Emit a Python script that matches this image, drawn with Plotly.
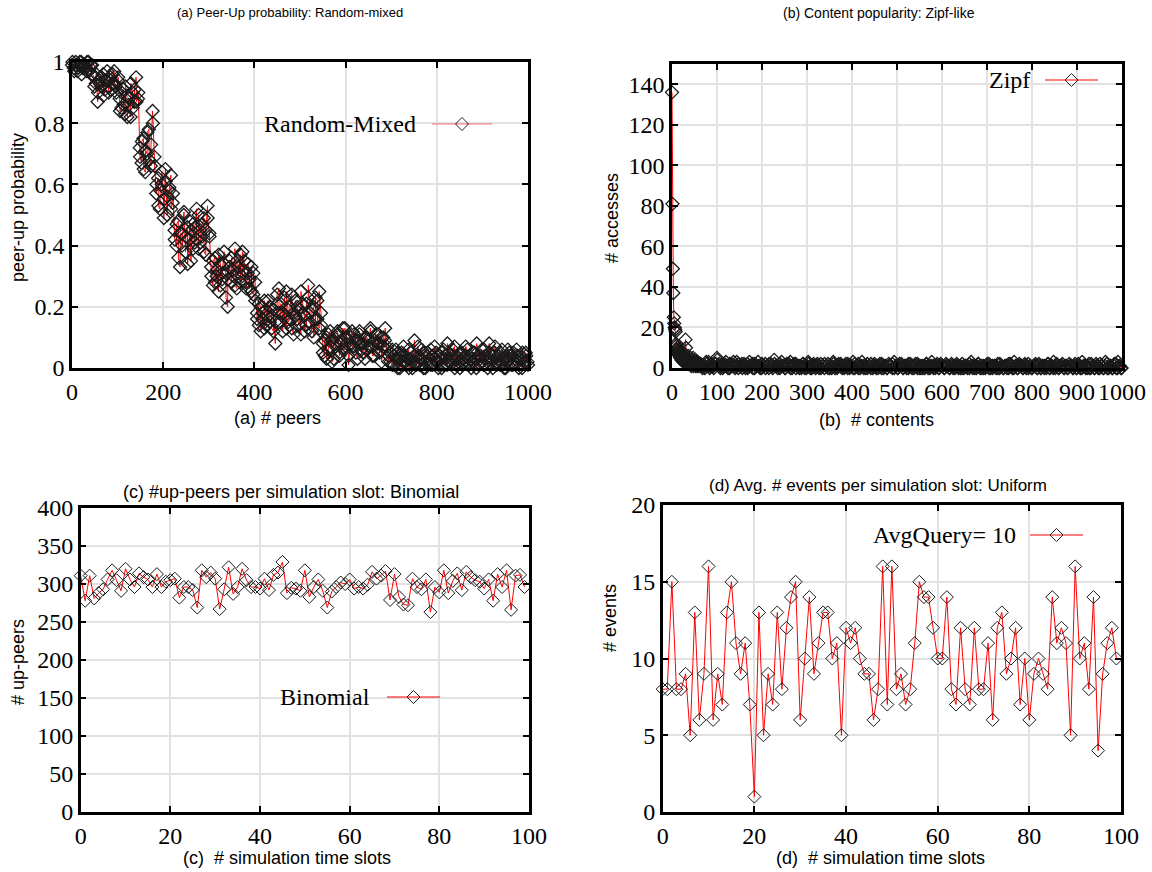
import plotly.graph_objects as go

# === data ===
# (a) peer-up probability per peer, two interleaved samples (even / odd positions)
peer_up_a = [
    0.99, 0.98, 1.0, 0.97, 0.99, 1.0, 0.98, 0.99, 0.97, 1.0, 0.98, 0.99,
    0.95, 0.93, 0.87, 0.94, 0.92, 0.96, 0.91, 0.94, 0.90, 0.95, 0.93, 0.97, 0.92, 0.94,
    0.88, 0.85, 0.91, 0.83, 0.89, 0.86, 0.82, 0.90, 0.87, 0.95, 0.88,
    0.72, 0.67, 0.75, 0.64, 0.70, 0.78, 0.66, 0.84, 0.69,
    0.57, 0.62, 0.52, 0.60, 0.55, 0.65, 0.50, 0.58, 0.63, 0.54,
    0.45, 0.40, 0.48, 0.33, 0.44, 0.50, 0.38, 0.46, 0.42, 0.35,
    0.47, 0.41, 0.52, 0.39, 0.45, 0.43, 0.49, 0.37, 0.53, 0.44,
    0.33, 0.27, 0.36, 0.30, 0.25, 0.34, 0.29, 0.38, 0.31, 0.20, 0.35, 0.28, 0.32,
    0.39, 0.26, 0.33, 0.37, 0.30, 0.35, 0.28, 0.31, 0.26, 0.33, 0.24, 0.28,
    0.18, 0.14, 0.20, 0.16, 0.13, 0.19, 0.22, 0.15, 0.17, 0.12, 0.08, 0.21,
    0.26, 0.15, 0.18, 0.23, 0.13, 0.19, 0.16, 0.24, 0.11, 0.17, 0.20, 0.14,
    0.25, 0.18, 0.12, 0.21, 0.27, 0.15, 0.19, 0.10, 0.23, 0.16, 0.25, 0.14,
    0.05, 0.09, 0.03, 0.11, 0.07, 0.02, 0.10, 0.08, 0.12, 0.04, 0.09, 0.06,
    0.13, 0.08, 0.01, 0.10, 0.07, 0.11, 0.05, 0.09, 0.12, 0.06, 0.08, 0.03,
    0.10, 0.07, 0.12, 0.04, 0.09, 0.06, 0.11, 0.08, 0.02, 0.10, 0.13, 0.07,
    0.04, 0.02, 0.06, 0.01, 0.03, 0.05, 0.0, 0.04, 0.07, 0.02,
    0.03, 0.0, 0.05, 0.02, 0.09, 0.01, 0.04, 0.03, 0.06, 0.0,
    0.02, 0.05, 0.03, 0.01, 0.04, 0.07, 0.02, 0.0, 0.03, 0.05,
    0.01, 0.04, 0.08, 0.02, 0.03, 0.06, 0.0, 0.04, 0.02, 0.05,
    0.01, 0.03, 0.07, 0.02, 0.04, 0.0, 0.05, 0.03, 0.08, 0.01,
    0.04, 0.02, 0.06, 0.03, 0.0, 0.05, 0.02, 0.04, 0.07, 0.01,
    0.03, 0.05, 0.02, 0.0, 0.04, 0.06, 0.03, 0.01, 0.05, 0.02,
    0.04, 0.0, 0.03, 0.05, 0.02, 0.04, 0.01,
]
peer_up_b = [
    1.0, 0.97, 0.99, 0.98, 1.0, 0.96, 0.99, 0.98, 1.0, 0.97, 0.99, 0.96,
    0.92, 0.96, 0.90, 0.93, 0.95, 0.89, 0.94, 0.97, 0.92, 0.91, 0.96, 0.93, 0.90, 0.95,
    0.84, 0.90, 0.86, 0.92, 0.82, 0.88, 0.93, 0.85, 0.91, 0.87, 0.90,
    0.69, 0.74, 0.65, 0.71, 0.77, 0.68, 0.73, 0.80, 0.66,
    0.60, 0.53, 0.58, 0.64, 0.49, 0.61, 0.56, 0.59, 0.52, 0.57,
    0.42, 0.47, 0.36, 0.44, 0.40, 0.51, 0.43, 0.34, 0.48, 0.45,
    0.39, 0.46, 0.42, 0.50, 0.41, 0.47, 0.38, 0.45, 0.49, 0.43,
    0.30, 0.35, 0.28, 0.32, 0.37, 0.27, 0.31, 0.34, 0.23, 0.29, 0.33, 0.36, 0.30,
    0.27, 0.35, 0.31, 0.28, 0.38, 0.32, 0.26, 0.34, 0.29, 0.25, 0.31, 0.22,
    0.16, 0.21, 0.12, 0.18, 0.22, 0.14, 0.17, 0.20, 0.13, 0.19, 0.15, 0.24,
    0.18, 0.21, 0.12, 0.17, 0.25, 0.15, 0.20, 0.13, 0.18, 0.22, 0.16, 0.19,
    0.11, 0.21, 0.17, 0.14, 0.23, 0.18, 0.12, 0.20, 0.16, 0.22, 0.13, 0.18,
    0.08, 0.04, 0.10, 0.06, 0.12, 0.09, 0.03, 0.07, 0.11, 0.05, 0.08, 0.13,
    0.06, 0.10, 0.04, 0.08, 0.12, 0.07, 0.09, 0.03, 0.11, 0.08, 0.05, 0.10,
    0.06, 0.09, 0.13, 0.07, 0.04, 0.11, 0.08, 0.05, 0.10, 0.07, 0.09, 0.06,
    0.02, 0.05, 0.01, 0.04, 0.06, 0.0, 0.03, 0.05, 0.02, 0.04,
    0.01, 0.06, 0.03, 0.0, 0.04, 0.02, 0.07, 0.01, 0.03, 0.05,
    0.0, 0.04, 0.02, 0.06, 0.01, 0.03, 0.05, 0.02, 0.04, 0.0,
    0.06, 0.03, 0.01, 0.05, 0.02, 0.04, 0.07, 0.01, 0.03, 0.0,
    0.05, 0.02, 0.04, 0.06, 0.01, 0.03, 0.02, 0.05, 0.0, 0.04,
    0.03, 0.06, 0.01, 0.04, 0.02, 0.08, 0.03, 0.0, 0.05, 0.02,
    0.04, 0.01, 0.06, 0.03, 0.0, 0.02, 0.05, 0.04, 0.01, 0.03,
    0.06, 0.02, 0.04, 0.0, 0.03, 0.05, 0.02,
]

# (b) accesses per content: head (contents 0..59) and two interleaved tail samples
zipf_head = [
    136, 81, 49, 37, 25, 22, 20, 19, 18, 12,
    11, 9, 10, 8, 7, 9, 6, 8, 5, 7,
    6, 4, 5, 8, 6, 3, 5, 4, 6, 3,
    14, 10, 5, 2, 4, 3, 6, 2, 3, 4,
    2, 5, 3, 1, 4, 2, 3, 5, 1, 2,
    3, 2, 4, 1, 3, 2, 1, 3, 2, 2,
]
zipf_tail_a = [
    1, 2, 0, 1, 3, 1, 0, 2, 1, 2, 5, 1, 0, 2, 1, 3, 1, 0, 2, 1,
    1, 3, 0, 1, 2, 1, 0, 2, 1, 1, 2, 0, 1, 3, 1, 0, 1, 2, 1, 0,
    2, 1, 4, 1, 0, 2, 1, 1, 0, 2, 1, 3, 0, 1, 2, 1, 0, 1, 2, 1,
    0, 3, 1, 0, 2, 1, 1, 0, 2, 1, 0, 1, 2, 0, 1, 3, 0, 1, 2, 1,
    0, 1, 2, 0, 1, 1, 3, 0, 1, 2, 0, 1, 1, 0, 2, 1, 0, 1, 2, 0,
    1, 2, 0, 1, 1, 0, 2, 1, 0, 3, 1, 0, 1, 2, 0, 1, 1, 0, 2, 1,
    0, 1, 2, 0, 1, 0, 1, 2, 0, 1, 3, 0, 1, 1, 0, 2, 1, 0, 1, 1,
    0, 2, 1, 0, 1, 1, 0, 2, 0, 1, 1, 0, 3, 1, 0, 1, 2, 0, 1, 0,
    1, 2, 0, 1, 0, 1, 1, 0, 2, 1, 0, 1, 0, 2, 1, 0, 3, 1, 0, 1,
    1, 0, 2, 1, 0, 1, 0, 1, 2, 0, 1, 0, 1, 1, 0, 2, 0, 1, 3, 0,
    1, 0, 1, 2, 0, 1, 0, 1, 1, 0, 2, 0, 1, 0, 3, 1, 0, 1, 0, 2,
    1, 0, 1, 0, 2, 1, 0, 3, 0, 1, 1, 0, 2, 0, 3, 1, 0,
]
zipf_tail_b = [
    2, 1, 1, 0, 2, 3, 1, 1, 0, 2, 4, 2, 1, 0, 2, 1, 0, 2, 1, 3,
    0, 1, 2, 1, 0, 2, 1, 0, 3, 1, 0, 2, 1, 1, 0, 2, 1, 0, 1, 2,
    1, 0, 2, 1, 1, 0, 3, 1, 0, 1, 2, 0, 1, 2, 0, 1, 1, 0, 2, 0,
    1, 2, 0, 1, 1, 0, 2, 1, 0, 1, 2, 1, 0, 1, 0, 2, 1, 0, 1, 2,
    1, 0, 1, 2, 0, 1, 0, 2, 1, 0, 1, 3, 0, 1, 0, 1, 2, 0, 1, 1,
    0, 1, 2, 0, 1, 0, 1, 1, 2, 0, 1, 0, 2, 1, 0, 1, 0, 2, 1, 0,
    1, 2, 0, 1, 0, 1, 0, 2, 1, 0, 1, 1, 0, 2, 0, 1, 1, 0, 2, 1,
    0, 1, 0, 1, 2, 0, 1, 0, 1, 1, 0, 2, 1, 0, 1, 0, 2, 1, 0, 1,
    0, 1, 2, 0, 1, 1, 0, 2, 0, 1, 0, 1, 1, 0, 2, 1, 0, 1, 0, 2,
    1, 0, 1, 0, 2, 1, 0, 1, 1, 0, 2, 0, 1, 0, 1, 2, 0, 1, 0, 1,
    2, 0, 1, 1, 0, 1, 0, 2, 1, 0, 1, 0, 2, 1, 0, 1, 1, 0, 2, 0,
    1, 0, 2, 1, 0, 1, 0, 1, 2, 0, 1, 0, 1, 2, 0, 1, 0,
]

# (c) up-peers per simulation slot
up_peers = [
    311, 278, 311, 281, 288, 293, 306, 318, 305, 291,
    320, 306, 296, 314, 309, 306, 296, 313, 296, 303,
    305, 307, 282, 296, 296, 292, 269, 318, 309, 315,
    307, 267, 293, 322, 287, 296, 320, 305, 296, 296,
    294, 307, 292, 312, 315, 329, 288, 295, 294, 291,
    318, 283, 296, 306, 291, 269, 290, 296, 302, 300,
    306, 294, 296, 294, 299, 316, 307, 311, 317, 279,
    313, 283, 273, 272, 307, 296, 293, 306, 263, 296,
    289, 318, 288, 304, 314, 292, 316, 309, 305, 303,
    294, 306, 278, 313, 296, 318, 266, 311, 312, 296,
]

# (d) events per simulation slot
events = [
    8, 8, 15, 8, 8, 9, 5, 13, 6, 9,
    16, 6, 9, 7, 13, 15, 11, 9, 11, 7,
    1, 13, 5, 9, 7, 13, 8, 12, 14, 15,
    6, 10, 14, 9, 11, 13, 13, 10, 11, 5,
    12, 11, 12, 10, 9, 9, 6, 8, 16, 7,
    16, 8, 9, 7, 8, 11, 15, 14, 14, 12,
    10, 10, 14, 8, 7, 12, 8, 7, 12, 8,
    8, 11, 6, 12, 13, 9, 10, 12, 7, 10,
    6, 9, 10, 9, 8, 14, 11, 12, 11, 5,
    16, 10, 11, 8, 14, 4, 9, 11, 12, 10,
]
slots = list(range(len(events)))


def interleave(a, b, x0, x1):
    # positions of the two samples across [x0, x1], merged in x order
    na, nb = len(a), len(b)
    xa = [x0 + i * (x1 - x0) / (na - 1) for i in range(na)]
    xb = [x0 + 1 + i * (x1 - x0 - 2) / (nb - 1) for i in range(nb)]
    pts = sorted(list(zip(xa, a)) + list(zip(xb, b)))
    return [p[0] for p in pts], [p[1] for p in pts]


peers, peer_up = interleave(peer_up_a, peer_up_b, 0, 1000)
tail_x, tail_y = interleave(zipf_tail_a, zipf_tail_b, 60, 999)
zipf_x = list(range(len(zipf_head))) + tail_x
zipf_y = zipf_head + tail_y

W, H = 1152, 872


def px(x):
    return x / W


def py(y):
    return 1 - y / H


# panel frames in pixels: left, right, top, bottom
frames = {
    "a": (72, 528, 62, 368),
    "b": (672, 1122, 64, 368),
    "c": (80.7, 529, 508, 812),
    "d": (662.7, 1121, 505, 812),
}

fig = go.Figure()


def add_series(x, y, n, mw):
    fig.add_trace(go.Scatter(
        x=x, y=y, mode="lines+markers", line=dict(color="red", width=1),
        marker=dict(symbol="diamond-open", size=10, color="#1a1a1a", line=dict(width=mw)),
        xaxis="x" + n, yaxis="y" + n, showlegend=False, cliponaxis=False,
    ))


add_series(peers, peer_up, "", 1.3)
add_series(zipf_x, zipf_y, "2", 1.3)
add_series(slots, up_peers, "3", 1)
add_series(slots, events, "4", 1)

tick_font = dict(family="Liberation Serif", size=24, color="black")


def axis(frame, rng, dtick, horizontal, anchor, tickvals=None, ticktext=None):
    l, r, t, b = frame
    d = dict(
        range=rng, dtick=dtick, showline=True, mirror="ticks", linecolor="black",
        linewidth=2.5, ticks="inside", ticklen=6, tickwidth=2, tickcolor="black",
        showgrid=True, gridcolor="#e2e2e2", gridwidth=2, zeroline=False,
        tickfont=tick_font, anchor=anchor, automargin=False,
    )
    if horizontal:
        d["domain"] = [px(l), px(r)]
    else:
        d["domain"] = [py(b), py(t)]
    if tickvals is not None:
        d["tickmode"] = "array"
        d["tickvals"] = tickvals
        d["ticktext"] = ticktext
    return d


fig.update_layout(
    template="none",
    xaxis=axis(frames["a"], [0, 1000], 200, True, "y"),
    yaxis=axis(frames["a"], [0, 1], 0.2, False, "x",
               [0, 0.2, 0.4, 0.6, 0.8, 1], ["0", "0.2", "0.4", "0.6", "0.8", "1"]),
    xaxis2=axis(frames["b"], [0, 1000], 100, True, "y2"),
    yaxis2=axis(frames["b"], [0, 150], 20, False, "x2",
                [0, 20, 40, 60, 80, 100, 120, 140],
                ["0", "20", "40", "60", "80", "100", "120", "140"]),
    xaxis3=axis(frames["c"], [0, 100], 20, True, "y3"),
    yaxis3=axis(frames["c"], [0, 400], 50, False, "x3"),
    xaxis4=axis(frames["d"], [0, 100], 20, True, "y4"),
    yaxis4=axis(frames["d"], [0, 20], 5, False, "x4"),
)

# titles and axis titles
sans = "Liberation Sans"
texts = [
    # text, x, y, size, angle
    ("(a) Peer-Up probability: Random-mixed", 290, 13, 13, 0),
    ("(b) Content popularity: Zipf-like", 879, 13, 14, 0),
    ("(c) #up-peers per simulation slot: Binomial", 291, 492, 18, 0),
    ("(d) Avg. # events per simulation slot: Uniform", 878, 485, 17, 0),
    ("(a) # peers", 277, 418, 18, 0),
    ("(b)  # contents", 876, 420, 18, 0),
    ("(c)  # simulation time slots", 287, 858, 18, 0),
    ("(d)  # simulation time slots", 880, 858, 18, 0),
    ("peer-up probability", 18, 208, 18, -90),
    ("# accesses", 612, 218, 18, -90),
    ("# up-peers", 18, 662, 18, -90),
    ("# events", 610, 618, 18, -90),
]
for txt, x, y, size, ang in texts:
    fig.add_annotation(
        text=txt, x=px(x), y=py(y), xref="paper", yref="paper", showarrow=False,
        xanchor="center", yanchor="middle", textangle=ang,
        font=dict(family=sans, size=size, color="black"),
    )

# keys: text on the left, line sample with a diamond on the right
keys = [
    # label, text right edge, y, line start, line end, box left, line colour
    ("Random-Mixed", 418, 124, 432, 492, 262, "#f07070"),
    ("Zipf", 1032, 80, 1045, 1098, 984, "red"),
    ("Binomial", 372, 697, 387, 440, 278, "red"),
    ("AvgQuery= 10", 1018, 535, 1030, 1083, 866, "red"),
]
for label, tx, ky, x0, x1, bx, lc in keys:
    fig.add_shape(type="rect", xref="paper", yref="paper",
                  x0=px(bx), x1=px(x1 + 8), y0=py(ky + 14), y1=py(ky - 14),
                  fillcolor="white", line=dict(width=0), layer="between")
    fig.add_annotation(
        text=label, x=px(tx), y=py(ky), xref="paper", yref="paper", showarrow=False,
        xanchor="right", yanchor="middle",
        font=dict(family="Liberation Serif", size=24, color="black"),
    )
    fig.add_shape(type="line", xref="paper", yref="paper",
                  x0=px(x0), x1=px(x1), y0=py(ky), y1=py(ky),
                  line=dict(color=lc, width=1.2), layer="above")
    cx = (x0 + x1) / 2
    path = "M {} {} L {} {} L {} {} L {} {} Z".format(
        px(cx - 6.5), py(ky), px(cx), py(ky - 6.5), px(cx + 6.5), py(ky), px(cx), py(ky + 6.5))
    fig.add_shape(type="path", path=path, xref="paper", yref="paper",
                  line=dict(color="#222222", width=1), fillcolor="rgba(0,0,0,0)",
                  layer="above")

fig.update_layout(
    width=W, height=H, margin=dict(l=0, r=0, t=0, b=0),
    paper_bgcolor="white", plot_bgcolor="white", showlegend=False,
)

# drop the default page margin so the 1152x872 figure fills the window exactly
fig.write_html("out.html", config={"displayModeBar": False},
               post_script="document.body.style.margin = '0';")
